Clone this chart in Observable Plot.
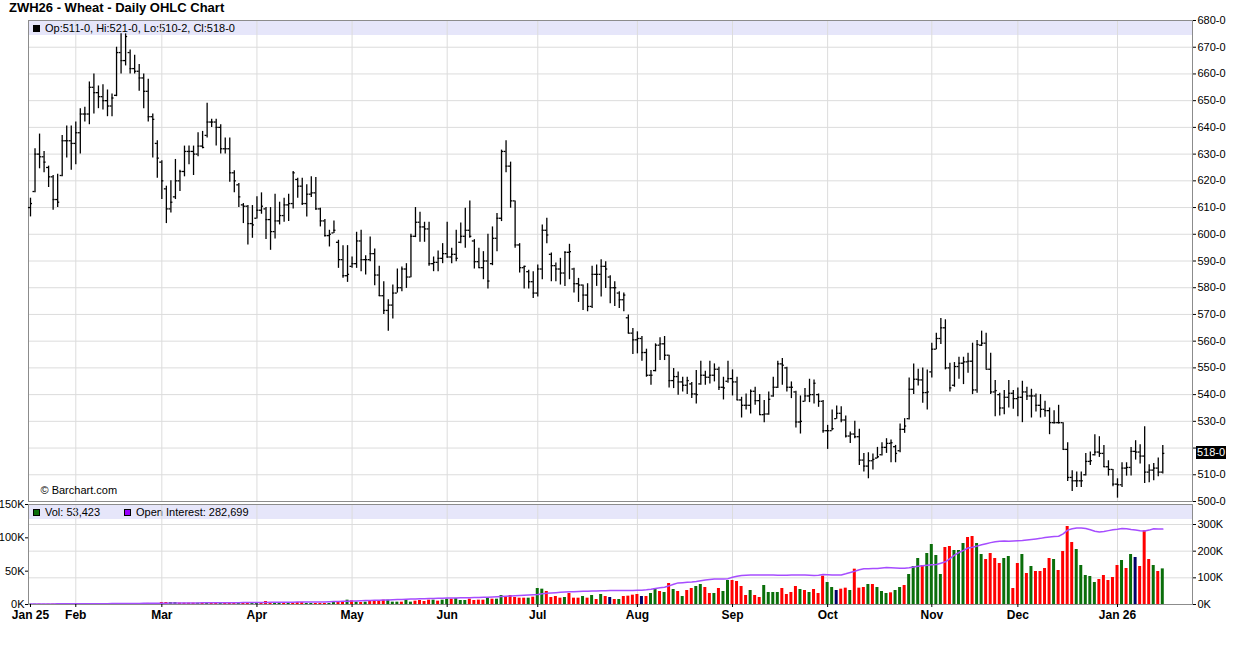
<!DOCTYPE html>
<html>
<head>
<meta charset="utf-8">
<script src="https://cdn.jsdelivr.net/npm/d3@7"></script>
<script src="https://cdn.jsdelivr.net/npm/@observablehq/plot@0.6"></script>
<style>
  html,body{margin:0;padding:0;background:#fff;overflow:hidden;}
  #chart{position:relative;width:1236px;height:645px;overflow:hidden;font-family:Arial,"Liberation Sans",Helvetica,sans-serif;color:#000;}
  #title{position:absolute;left:9px;top:0px;font-size:13px;font-weight:bold;line-height:15px;white-space:nowrap;}
  .band{position:absolute;left:29px;width:1163px;height:14px;background:#e6e6fa;font-size:11px;line-height:14px;white-space:nowrap;padding-left:4px;box-sizing:border-box;}
  .sq{display:inline-block;width:5px;height:5px;border:1px solid #000;margin-right:5px;vertical-align:0px;}
  .gap{display:inline-block;width:24px;}
  #lastTag{position:absolute;left:1196px;width:30px;height:13px;background:#000;color:#fff;font-size:11px;line-height:13px;text-align:center;}
  svg{position:absolute;left:0;}
</style>
</head>
<body>
<div id="chart">
  <div id="title"></div>
  <div class="band" id="priceBand" style="top:21px"></div>
  <div class="band" id="volBand" style="top:505px"></div>
</div>
<script>
// ---------- DATA ----------
const symbol = "ZWH26", productName = "Wheat", chartKind = "Daily OHLC Chart";
const firstDay = "2025-01-17", lastDay = "2026-01-16";
const holidays = ["2025-01-20","2025-02-17","2025-04-18","2025-05-26","2025-06-19","2025-07-04","2025-09-01","2025-11-27","2025-12-25","2026-01-01"];
const priceTicks = [500,510,520,530,540,550,560,570,580,590,600,610,620,630,640,650,660,670,680];
const volTicksK = [0,50,100,150];
const oiTicksK = [0,100,200,300];

const open = [
610,616,630,629,625,621.5,613,622,635,635,
634,638,645,645,655,653,651.5,650,648,652,
668,665,668,662,661,658.5,653.5,644,634,627,
617,609.5,614,620,623.5,631,631,630,633,637,
642,642,640,632,632,623,618.5,611,610.5,604,
606,609,609.5,605.5,601,605,607,611,611.5,620.5,
618,611.5,615,615.5,609.5,605,599.5,600.5,597,590.5,
584.5,588,589,597.5,590.5,590.5,592.75,584.75,577,571.5,
573.5,578,580,587,584,599.25,604.5,602.75,602,589,
589.5,591,592.75,591.5,592.5,597,599.25,601.5,597.5,589.75,
587.5,590,589,598.5,606,631,625.5,612.5,596,587.5,
586,582.25,578,587,601.5,592.5,588.25,587,585.5,593.25,
587,581.5,581,577.25,573,585,585,588,584,580,
578,575.5,568.75,563,560.5,561,555.75,547.25,549,558.5,
559,554.75,545.25,546.75,544.75,543.5,544,540.25,544,547.25,
546.5,547.25,549.5,542.75,545,546,544.75,538,536,536,
541.25,537.75,532.5,532.75,539.5,542.75,551.5,550,542.75,541,
529.75,537.5,539.5,540,540,537.5,526.5,526.5,531,533,
530.5,524.5,525.25,524.25,515.5,513.25,515.25,516.25,517.5,520.25,
521.75,520.5,519,527,531,542,545.75,545.5,540.75,548.5,
557,561,565,550,543.5,550.5,551.75,552.25,552.5,541.75,
558.5,559.25,549.5,541,540,535,539,540.5,538.5,539,
541,539.5,539.5,536,534.5,534,529.5,529.5,529.5,519.5,
509,507.75,507.75,510,515,517.5,518.5,518,513,512,
506.5,506.25,512.5,512.75,518.75,518.5,517,511,511.75,512.5,
511];

const high = [
613.5,632,637.5,631,625.5,622,622.5,637,640.5,640.5,
642,647,647.5,657,660,655.5,656,654,652.5,670,
675,675,669,667,663.5,660,658,645,635,627.5,
618,620,628,624,633,633,633,638,638.5,649,
643,643,641,636,636,623.75,619,611.5,610.75,610.75,
614,615.5,610,610,615,612,613.5,615,623.5,621,
621,618.5,621.5,621.25,609.75,605.5,601.5,605,597.75,595.75,
595.75,591.5,600.75,601.5,592,599,594.5,588,582.25,575.5,
581,587,587.75,589,600,610,608.25,604.5,604.5,591.5,
593.75,596.5,604.5,594.75,601.5,604.25,609.75,612.5,598,594.75,
593.5,600,602.75,607.75,631.5,635,627,612.5,596.5,588,
586.5,586,588.5,603.5,606,593,589.25,591,593.5,596.25,
587.25,583.5,581,581.5,588,588.5,590.5,589.75,584.5,582.25,
578.5,578,569.75,564.75,563.5,561.75,557,549,559,561.25,
561.75,554.75,549.75,548.5,546.5,546.5,544.5,549,552.5,548.75,
552.5,551.5,550.25,546.5,552.5,549.25,546.5,539,540.25,541.75,
542.75,540,537.75,541,546.5,552.5,553.5,550.25,544.75,541.25,
539.5,542.25,545.75,545.5,540.25,537.75,528.5,534.25,535.75,535.5,
532,526,530,527,518,518.25,517.75,520.25,522,523.5,
523,521,529,531,546.25,551.5,549.5,550,549.25,559.25,
563,568.5,568,551.75,552,554,554,555.5,559.25,560.25,
563.75,563,555.5,545.25,540.5,541.5,545.25,541.5,542.5,545,
542.75,542,540.25,540,537.5,535,534,536,529.5,522,
511.5,511,511,518,518.5,525,524.25,521,515.25,512,
508.5,514.5,514.5,520.25,522.75,521.25,528,513.75,514.25,516.25,
521];

const low = [
606.5,615.5,624.5,623,617.5,609,610,621.5,628.5,624,
626,630,642,641,645,647,646.5,644,644,651.5,
660,663,660,660,653.5,647,642,628.5,621,613,
604,608,613,616,621.5,626,622,629,632,636,
640,633,630,630,619.5,615.5,610,604,596,598.5,
605.75,607.5,598,594,598.25,603.5,604.5,604.75,609.5,613.5,
610.75,606.5,613.75,609,602.75,599,595.25,600.25,587.25,583.5,
582,587.25,587.25,586,584.75,589.75,580.75,576.75,570,563.75,
568.25,578,578.5,579.75,583.75,598.75,597,597,588,586,
586,589,591,589,589.75,596.5,594.75,598.5,587,587.25,
583,579.5,588.25,593.5,604.75,623,609.75,594.75,585.5,579.5,
579.5,576,576.5,583,596.5,582.25,582.25,581,580.5,583,
578,574.5,571.5,571,572.25,580.5,576.5,579.75,574,573,
572.25,571,562.75,555,555.25,552.5,546.5,543.5,548.5,552.75,
552.75,542.5,542.25,539.75,541,540,538.5,536.5,543.5,543.5,
544,544.75,541.5,538,544.25,539.5,537.75,531.25,534.25,532.75,
536,532.25,529.5,532.25,539,542.25,543.5,541,538.5,527.5,
525.25,537.25,537,536.5,535.25,525.5,519.5,526.5,530.75,529.5,
523.75,521.75,523.5,513.5,511,508.5,511.75,516,517,518,
514.5,514.5,518.25,525.5,530.5,540,543.25,536.75,534.25,546.25,
556.75,558.75,549.25,541,542.75,545.75,543.75,548,540,540.5,
558,549.5,540,531.75,532,532.5,535,534.5,531.75,529.5,
537.75,531.25,533.5,531.25,531.5,525,529,529,519.25,507.5,
503.75,505.25,505.25,509.5,513.5,517,516.5,512.75,509.5,505.5,
501.25,505.25,509.5,509.5,515.5,514,506.75,507,507.75,509.25,
510.25];

const close = [
611.5,630,629,627,621.5,613,612,635,635,634,
638,645,645,655,653,651.5,650,648,651,668,
665,674,662,661,658.5,653.5,644,643,628.5,620,
609.5,612,620,623.5,631,631,630,633,632.5,642,
642,640,632,632,623,620,614,610.5,604,603.5,
609,610.5,605.5,601,605,607,611,611.5,623,618,
611.5,615,615.5,609.5,605,599.5,600,601.5,590.5,584.5,
585,589,597.5,590.5,590.5,592.75,584.75,577,571.5,573.5,
578,580,587,584,599.25,604.5,602.75,602,589,589.5,
591,592.75,591.5,592.5,591,599.25,601.5,599.25,589.75,587.5,
590,582.5,598.5,606,631,625.5,612.5,596,587.5,588,
582.25,578,587,601.5,599.75,588.25,587,585.5,593.25,593.5,
581.5,581,577.25,573,585,585,588,587,580,580,
575.5,577.25,563,560.5,561,555.75,547.25,547.25,558.5,559,
554.75,545.25,546.75,544.75,543.5,545.25,540.25,540,547.25,546.5,
547.25,549.5,542.75,542.5,546,544.75,538,536,536,541.25,
537.75,532.5,532.75,538.25,542.75,551.5,551,542.75,542.75,529.75,
530,539.5,540,544.25,537.5,526.5,526.5,527.25,533,530.5,
524.5,525.25,524.25,515.5,513.25,515.25,515.75,516.75,520.25,521.75,
522,518,527,528.25,542,545.75,545.5,540.75,541,557,
561,565,550,542.5,550.5,551.75,552.25,552.5,541.75,558.75,
559.25,549.5,541,541.5,535,539,540.5,538.5,539,541,
539.5,539.5,536,534.5,534,529.5,529.5,529.5,519.5,509,
507.75,507.75,507.75,515,515.25,518.5,518,513,512,506.5,
506.25,512.5,512.75,518.75,518.5,517,511,511.75,512.5,511,
518];

// volume in thousands of contracts
const volumeK = [
0.5,0.4,0.5,0.3,0.4,0.5,0.4,0.6,0.5,0.4,
0.5,0.6,0.5,0.7,0.6,0.5,0.6,0.7,1.2,1.0,
1.3,1.1,1.5,1.4,1.5,1.3,1.6,1.4,1.5,3,
3,3,3,2,2,2,2,2,2,3,
2,2,2,2,2,2,2,3,3,3,
3,2,4.5,3,3,3,3,3,2,3,
3,1.5,1.5,1.5,1.5,1.5,1.5,3.5,4.5,4.5,
6.5,5.5,3.5,3,3.5,4.5,4.5,4.5,6.5,6.5,
3.5,3.5,3.5,6.5,3.5,5,6,4.5,6.5,6.5,
5,6.5,8,8,9,6,6,8,6,6.5,
6.5,9.5,8,8,13.5,10.5,13.5,10.5,9.5,9.5,
9.5,11,24,23,19.5,10.5,12,9.5,10.5,16.5,
9.5,9.5,12,9.5,13.5,7.5,15,12,10.5,7.5,
7.5,12,12.5,14,15,12,12,16.5,24,19.5,
18,31.5,22.5,19.5,12,21,24,27,30,25.5,
16.5,16.5,24,19.5,36,36,34.5,27,13.5,21,
13.5,10.5,28.5,18,18,18,24,15,18,27,
22.5,21,18,22.5,16.5,42.5,33,25.5,21,23,
24.5,21,53,24.5,25.5,30,30,25.5,19.5,16.5,
17.5,21,25.5,28.5,45,57,69,58.5,76.5,90,
73.5,45,85.5,87,81,81,91.5,100.5,102,91.5,
75,67.5,76.5,69,61.5,69,72,24,61.5,75,
46.5,57,49.5,49.5,54,69,67.5,51,79.5,117,
93,82.5,58.5,43.5,42,33,37.5,43.5,36,40.5,
58.5,66,54,75,70.5,57,110.5,67.5,58.5,49.5,
53.423];

// open interest in thousands of contracts
const openInterestK = [
2.0,2.0,2.1,2.2,2.2,2.3,2.4,2.4,2.5,2.6,
2.7,2.8,2.8,2.9,3.0,3.1,3.1,3.2,3.4,3.5,
3.6,3.8,3.9,4.0,4.1,4.3,4.4,4.5,4.7,5.0,
5.1,5.2,5.4,5.5,5.6,5.7,5.9,6.0,6.1,6.2,
6.4,6.5,6.6,6.7,6.8,6.9,7.0,7.1,7.2,7.4,
7.5,7.6,7.8,8.0,8.1,8.3,8.4,8.6,8.8,9.0,
9.1,9.2,9.3,9.4,9.6,9.8,10.3,11.0,11.4,11.9,
12.6,13.1,13.5,14.0,14.6,15.1,15.7,16.2,16.9,17.3,
17.9,18.4,19.0,19.6,20.3,21.0,21.4,21.8,22.3,22.7,
23.1,23.5,24.0,24.3,24.6,24.9,25.2,25.5,25.8,26.0,
26.8,27.6,28.4,29.3,30.1,31.0,31.8,32.5,33.5,34.5,
35.5,36.5,37.5,40.0,42.5,43.5,44.5,45.5,46.5,47.5,
48.2,49.0,49.5,50.0,50.5,51.0,51.5,52.0,52.5,52.5,
52.7,52.5,52.5,52.8,53.0,53.5,55,57,60,63,
65,70,76,81,82,83,84,86,89,92,
94,96,96,96,97,102.5,106,109,110,110.5,
111,111,111,111,110.5,110,110,110,110.5,111,
111,111,110,109,110,112.5,112,111,111,111,
115,120,125,130,134,134.5,135,135,137,139,
138,137,136,136,138,141,143,145,147,149,
150,155,160,172,185,195,203,212,215,219,
224,228,232,235,237,238,237,238,239,240,
242,244,246,248,251,253,255,256,265,279,
284,287,287,285,280,275,272,274,277,280,
282,285,284,281,279,277,276,279,284,283,
282.699];

// day direction as coloured on the volume bars: u = up, d = down, n = unchanged
const direction = [
"uuddddduud","uuuudddduu","dudddddddd","duuddddudu","dduddduddu",
"uddduududd","duuddduudd","udududdddu","uuduuddddu","duuduuuddd",
"duduuddddd","uduuddddud","ddudududnd","uddddnduud","udududduud",
"duduuddddu","dduuuudddd","ududdduund","duddduduuu","duuduuuduu",
"uudduuuddu","udddduuddu","dudddduddd","duuuuudddd","dudundddudu"
].join("");

// ---------- BUILD ----------
const hol = new Set(holidays);
const dates = [];
for (let t = Date.parse(firstDay); t <= Date.parse(lastDay); t += 864e5) {
  const d = new Date(t), wd = d.getUTCDay();
  if (wd === 0 || wd === 6 || hol.has(d.toISOString().slice(0, 10))) continue;
  dates.push(d);
}
const N = close.length;
const rows = d3.range(N).map(i => ({
  i, date: dates[i], o: open[i], h: high[i], l: low[i], c: close[i],
  v: volumeK[i], oi: openInterestK[i], dir: direction[i]
}));
const last = N - 1;
const monthStarts = d3.range(dates.length).filter(i => i === 0 || dates[i].getUTCMonth() !== dates[i - 1].getUTCMonth());
const monthLabel = i => dates[i].getUTCMonth() === 0 ? d3.utcFormat("%b %y")(dates[i]) : d3.utcFormat("%b")(dates[i]);
const fmtPrice = v => { const w = Math.floor(v); return w + "-" + Math.round((v - w) * 8); };

const dirColor = {u: "#0a6e0a", d: "#ff0000", n: "#000066"};
const W = 1236;
const xDomain = [-0.44, last + 6.56];
const oiRatio = 2.5;
const baseStyle = {background: "transparent", fontFamily: "Arial, 'Liberation Sans', sans-serif", fontSize: "11px", color: "#000", overflow: "visible"};

document.getElementById("title").textContent = `${symbol} - ${productName} - ${chartKind}`;
document.getElementById("priceBand").innerHTML =
  `<span class="sq" style="background:#000"></span>Op:${fmtPrice(open[last])}, Hi:${fmtPrice(high[last])}, Lo:${fmtPrice(low[last])}, Cl:${fmtPrice(close[last])}`;
document.getElementById("volBand").innerHTML =
  `<span class="sq" style="background:${dirColor.u}"></span>Vol: ${d3.format(",")(Math.round(volumeK[last] * 1000))}<span class="gap"></span>` +
  `<span class="sq" style="background:#9900ff"></span>Open Interest: ${d3.format(",")(Math.round(openInterestK[last] * 1000))}`;

const pricePlot = Plot.plot({
  width: W, height: 502,
  marginTop: 20, marginBottom: 1, marginLeft: 28, marginRight: 44,
  x: {domain: xDomain, axis: null},
  y: {domain: [priceTicks[0], priceTicks[priceTicks.length - 1]], axis: null},
  style: baseStyle,
  marks: [
    Plot.ruleY(priceTicks.slice(1, -1), {stroke: "#dcdcdc"}),
    Plot.ruleX(monthStarts.filter(i => i > 0), {stroke: "#dcdcdc"}),
    Plot.frame({stroke: "#8c8c8c"}),
    Plot.axisY({ticks: priceTicks, anchor: "right", label: null, tickSize: 3, tickPadding: 2, fontSize: 11,
      tickFormat: v => Math.abs(v - close[last]) < 4 ? "" : fmtPrice(v)}),
    Plot.text(["© Barchart.com"], {frameAnchor: "bottom-left", dx: 12, dy: -8, textAnchor: "start", fontSize: 11}),
    Plot.ruleX(rows, {x: "i", y1: "l", y2: "h", stroke: "#000", strokeWidth: 1.3}),
    Plot.ruleY(rows, {y: "o", x1: d => d.i - 0.45, x2: "i", stroke: "#000", strokeWidth: 1.3}),
    Plot.ruleY(rows, {y: "c", x1: "i", x2: d => d.i + 0.45, stroke: "#000", strokeWidth: 1.3})
  ]
});
pricePlot.style.top = "0px";
document.getElementById("chart").appendChild(pricePlot);

const volPlot = Plot.plot({
  width: W, height: 130,
  marginTop: 6, marginBottom: 24, marginLeft: 28, marginRight: 44,
  x: {domain: xDomain, axis: null},
  y: {domain: [volTicksK[0], volTicksK[volTicksK.length - 1]], axis: null},
  color: {type: "identity"},
  style: baseStyle,
  marks: [
    Plot.ruleY(oiTicksK.filter(v => v > 0), {y: v => v / oiRatio, stroke: "#dcdcdc"}),
    Plot.ruleX(monthStarts.filter(i => i > 0), {stroke: "#dcdcdc"}),
    Plot.rect(rows, {x1: d => d.i - 0.33, x2: d => d.i + 0.33, y1: 0, y2: "v", fill: d => dirColor[d.dir]}),
    Plot.line(rows, {x: "i", y: d => d.oi / oiRatio, stroke: "#a64dff", strokeWidth: 1.5}),
    Plot.frame({stroke: "#8c8c8c"}),
    Plot.axisY({ticks: volTicksK, anchor: "left", label: null, tickSize: 3, tickPadding: 1, fontSize: 11, tickFormat: v => v + "K"}),
    Plot.axisY({ticks: oiTicksK.map(v => v / oiRatio), anchor: "right", label: null, tickSize: 3, tickPadding: 2, fontSize: 11,
      tickFormat: v => Math.round(v * oiRatio) + "K"}),
    Plot.axisX({ticks: monthStarts, label: null, tickSize: 3, tickPadding: 3, fontSize: 12, fontWeight: "bold", tickFormat: monthLabel})
  ]
});
volPlot.style.top = "498px";
document.getElementById("chart").appendChild(volPlot);

const tag = document.createElement("div");
tag.id = "lastTag";
tag.textContent = fmtPrice(close[last]);
tag.style.top = (pricePlot.scale("y").apply(close[last]) - 6.5) + "px";
document.getElementById("chart").appendChild(tag);
</script>
</body>
</html>
